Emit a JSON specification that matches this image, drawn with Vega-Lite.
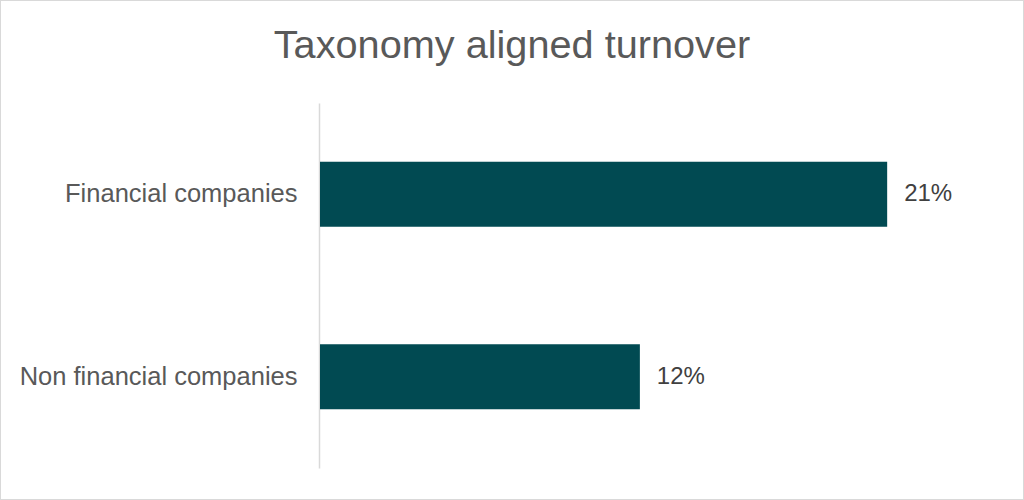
{
  "$schema": "https://vega.github.io/schema/vega-lite/v6.json",
  "width": 1024,
  "height": 500,
  "autosize": "none",
  "padding": 0,
  "background": "white",
  "title": {
    "text": "Taxonomy aligned turnover",
    "anchor": "middle",
    "frame": "group",
    "offset": -98,
    "baseline": "alphabetic",
    "fontSize": 39.7,
    "font": "Liberation Sans",
    "fontWeight": "normal",
    "color": "#595959"
  },
  "config": {"view": {"stroke": "#d9d9d9", "strokeWidth": 2}},
  "data": {
    "values": [
      {"category": "Financial companies", "value": 0.211},
      {"category": "Non financial companies", "value": 0.119}
    ]
  },
  "encoding": {
    "y": {
      "field": "category",
      "type": "nominal",
      "sort": null,
      "scale": {"range": [103, 468], "paddingInner": 0.644, "paddingOuter": 0.322},
      "axis": {
        "title": null,
        "offset": -319,
        "ticks": false,
        "grid": false,
        "domainColor": "#d9d9d9",
        "domainWidth": 1.5,
        "labelFont": "Liberation Sans",
        "labelFontSize": 25.5,
        "labelLimit": 400,
        "labelColor": "#595959",
        "labelPadding": 22
      }
    },
    "x": {
      "field": "value",
      "type": "quantitative",
      "scale": {"domain": [0, 0.25], "range": [320, 992]},
      "axis": null
    }
  },
  "layer": [
    {"mark": {"type": "bar", "color": "#014a52"}},
    {
      "mark": {"type": "text", "align": "left", "dx": 17, "font": "Liberation Sans", "fontSize": 24, "color": "#404040"},
      "encoding": {"text": {"field": "value", "format": ".0%"}}
    }
  ]
}
